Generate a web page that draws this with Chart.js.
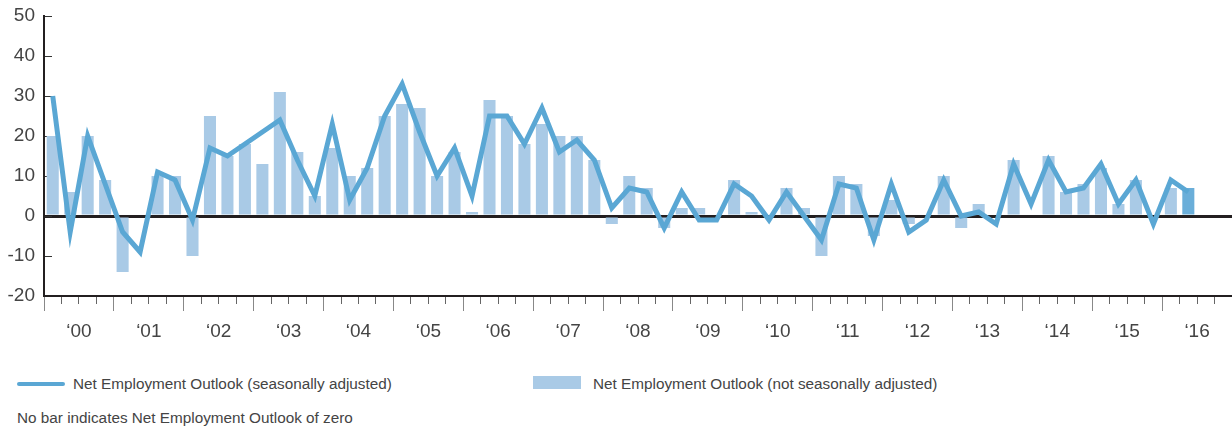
<!DOCTYPE html>
<html>
<head>
<meta charset="utf-8">
<script src="https://cdn.jsdelivr.net/npm/chart.js@4"></script>
<style>
  body { margin: 0; background: #fff; }
  #wrap { position: relative; width: 1232px; height: 429px; font-family: "Liberation Sans", Arial, sans-serif; color: #444; }
  #box { position: absolute; left: 0; top: 0; width: 1232px; height: 345px; }
  .lg { position: absolute; font-size: 15.3px; line-height: 18px; white-space: nowrap; }
  .sw { position: absolute; }
</style>
</head>
<body>
<div id="wrap">
  <div id="box"><canvas id="chart"></canvas></div>
  <div class="sw" style="left:17px;top:382px;width:48px;height:4px;border-radius:2px;background:#5aa7d4"></div>
  <div class="lg" style="left:73px;top:375px">Net Employment Outlook (seasonally adjusted)</div>
  <div class="sw" style="left:533px;top:376px;width:48px;height:13px;background:#a9cae6"></div>
  <div class="lg" style="left:593px;top:375px">Net Employment Outlook (not seasonally adjusted)</div>
  <div class="lg" style="left:17px;top:409px">No bar indicates Net Employment Outlook of zero</div>
</div>
<script>
// quarters 2000 Q1 .. 2016 Q4 (data stops at 2016 Q2)
const years = ['2000','2001','2002','2003','2004','2005','2006','2007','2008','2009','2010','2011','2012','2013','2014','2015','2016'];
const yearLabels = ['‘00','‘01','‘02','‘03','‘04','‘05','‘06','‘07','‘08','‘09','‘10','‘11','‘12','‘13','‘14','‘15','‘16'];
const quarters = ['Q1','Q2','Q3','Q4'];

// Net Employment Outlook, seasonally adjusted (line)
const adjusted = [
  30, -4, 20, 8,   -4, -9, 11, 9,   -1, 17, 15, 18,   21, 24, 14, 5,
  23, 4, 12, 25,   33, 21, 10, 17,  5, 25, 25, 18,    27, 16, 19, 14,
  2, 7, 6, -3,     6, -1, -1, 8,    5, -1, 6, 0,      -6, 8, 7, -6,
  8, -4, -1, 9,    0, 1, -2, 13,    3, 14, 6, 7,      13, 3, 9, -2,
  9, 6
];
// Net Employment Outlook, not seasonally adjusted (bars)
const unadjusted = [
  20, 6, 20, 9,    -14, 0, 10, 10,  -10, 25, 15, 18,  13, 31, 16, 5,
  17, 10, 12, 25,  28, 27, 10, 16,  1, 29, 25, 18,    23, 20, 20, 14,
  -2, 10, 7, -3,   2, 2, 0, 9,      1, 0, 7, 2,       -10, 10, 8, -5,
  4, -2, 0, 10,    -3, 3, 0, 14,    0, 15, 6, 8,      12, 3, 9, 0,
  7, 7
];

const labels = [];
years.forEach(y => quarters.forEach(q => labels.push(q + ' ' + y)));

const lineBlue = '#5aa7d4';
const barBlue = '#a9cae6';
const barColors = unadjusted.map((v, i) => i === unadjusted.length - 1 ? '#6aaed9' : barBlue);
const tickFont = { family: '"Liberation Sans", Arial, sans-serif', size: 19 };

new Chart(document.getElementById('chart'), {
  type: 'bar',
  data: {
    labels: labels,
    datasets: [
      {
        type: 'line',
        label: 'Net Employment Outlook (seasonally adjusted)',
        data: adjusted,
        borderColor: lineBlue,
        borderWidth: 5,
        pointRadius: 0,
        tension: 0,
        order: 0
      },
      {
        label: 'Net Employment Outlook (not seasonally adjusted)',
        data: unadjusted,
        backgroundColor: barColors,
        barPercentage: 0.69,
        categoryPercentage: 1,
        order: 1
      }
    ]
  },
  options: {
    responsive: true,
    maintainAspectRatio: false,
    animation: false,
    layout: { padding: 0 },
    plugins: { legend: { display: false }, tooltip: { enabled: false } },
    scales: {
      y: {
        min: -20,
        max: 50,
        afterFit: s => { s.width = 44; s.paddingTop = 16; s.paddingBottom = 12; },
        ticks: { stepSize: 10, padding: 17, color: '#444', font: tickFont },
        border: { color: '#231f20', width: 2 },
        grid: {
          color: c => c.tick && c.tick.value === 0 ? '#231f20' : 'rgba(0,0,0,0)',
          lineWidth: c => c.tick && c.tick.value === 0 ? 3 : 1,
          tickColor: '#333',
          tickWidth: 1,
          tickLength: -8
        }
      },
      x: {
        offset: true,
        afterFit: s => { s.height = 49; },
        ticks: { display: false, autoSkip: false },
        border: { color: '#231f20', width: 2 },
        grid: { offset: true, drawOnChartArea: false, tickLength: 8, tickColor: '#666', tickWidth: 1 }
      },
      x2: {
        axis: 'x',
        type: 'category',
        labels: yearLabels,
        position: { y: -20 },
        offset: true,
        border: { display: false },
        ticks: { autoSkip: false, maxRotation: 0, padding: 9, color: '#444', font: tickFont },
        grid: { offset: true, drawOnChartArea: false, tickLength: 15, tickColor: '#888', tickWidth: 1 }
      }
    }
  }
});
</script>
</body>
</html>
